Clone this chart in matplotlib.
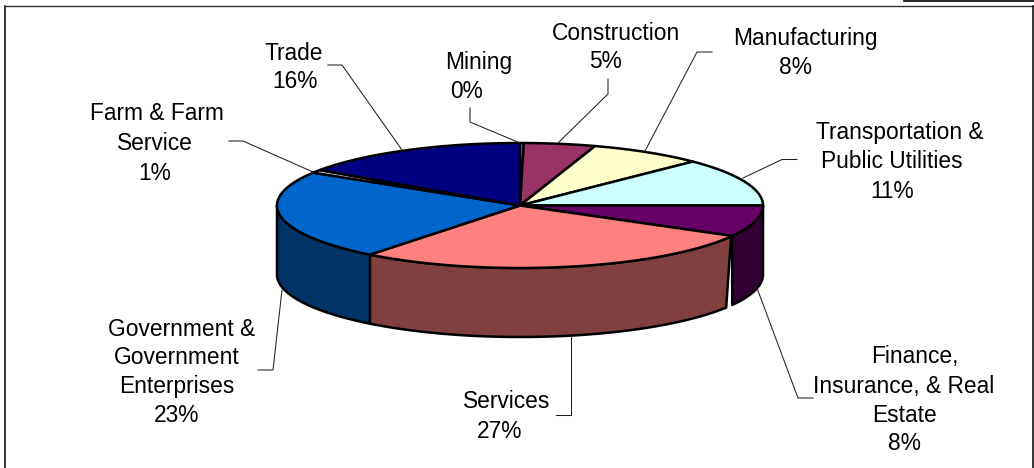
import matplotlib
matplotlib.use("Agg")
import matplotlib.pyplot as plt
import numpy as np
from matplotlib.patches import Polygon

plt.rcParams["font.family"] = ["Liberation Sans", "DejaVu Sans"]

# clockwise from twelve o'clock, shares as they appear on the drawn pie
SECTORS = [
    "Mining",
    "Construction",
    "Manufacturing",
    "Transportation & Public Utilities",
    "Finance, Insurance, & Real Estate",
    "Services",
    "Government & Government Enterprises",
    "Farm & Farm Service",
    "Trade",
]
SHARES = [0.25, 4.75, 7.6, 12.4, 8.1, 27.5, 23.2, 0.8, 15.4]
PERCENT_LABELS = ["0%", "5%", "8%", "11%", "8%", "27%", "23%", "1%", "16%"]

TOP_COLORS = [
    "#9999FF", "#993366", "#FFFFCC", "#CCFFFF", "#660066",
    "#FF8080", "#0066CC", "#CCCCFF", "#000080",
]
SIDE_COLORS = [
    "#4D4D80", "#4D1A33", "#808066", "#668080", "#330033",
    "#804040", "#003366", "#666680", "#000040",
]

# label lines are placed one by one, the wrapping in the original is uneven
LABEL_LINES = [
    [("Mining", 478.5, 63), ("0%", 466.5, 91.5)],
    [("Construction", 616, 34), ("5%", 605, 62)],
    [("Manufacturing", 805, 39), ("8%", 795, 68)],
    [("Transportation &", 900, 133), ("Public Utilities", 892, 162), ("11%", 892, 191.5)],
    [("Finance,", 915, 357), ("Insurance, & Real", 904, 386), ("Estate", 904, 415), ("8%", 904, 443.5)],
    [("Services", 507, 402), ("27%", 500, 431)],
    [("Government &", 182, 330), ("Government", 177, 357.5), ("Enterprises", 177, 386), ("23%", 177, 415)],
    [("Farm & Farm", 157, 114), ("Service", 155, 143), ("1%", 155, 173)],
    [("Trade", 294, 53), ("16%", 295, 82)],
]

LEADERS = [
    [(470, 108), (470, 122), (520, 143)],
    [(608, 79), (608, 94), (558, 143)],
    [(712, 52), (697, 52), (645, 151)],
    [(797, 159.5), (782, 159.5), (743, 178)],
    [(813, 398), (798, 398), (757, 288)],
    [(556, 415), (571, 415), (571, 335)],
    [(258, 370), (273, 370), (282, 290)],
    [(229, 141), (243, 141), (313, 172)],
    [(328, 65), (342, 65), (402, 150)],
]

CX, CY = 520, 205.5
RX, RY = 243, 62.5
DEPTH = 69


def rim(theta_deg, drop=0):
    t = np.radians(theta_deg)
    return np.column_stack([CX + RX * np.sin(t), CY - RY * np.cos(t) + drop])


def arc(start, end, drop=0):
    return rim(np.linspace(start, end, 80), drop)


fig = plt.figure(figsize=(10.34, 4.68), dpi=100)
ax = fig.add_axes([0, 0, 1, 1])
ax.set_xlim(0, 1034)
ax.set_ylim(468, 0)
ax.axis("off")

edges = np.concatenate([[0], np.cumsum(SHARES)]) / sum(SHARES) * 360

# side wall, only the front half of the rim shows
for i in range(len(SHARES)):
    start, end = max(edges[i], 90), min(edges[i + 1], 270)
    if end <= start:
        continue
    top_end, bottom_end = start, start
    if SECTORS[i] == "Services":
        # the wall stops short of the next one and leaves a white slit
        top_end, bottom_end = start + 0.5, start + 2.8
    wall = np.vstack([arc(top_end, end), arc(end, bottom_end, DEPTH)])
    ax.add_patch(Polygon(wall, closed=True, facecolor=SIDE_COLORS[i],
                         edgecolor="black", lw=1.8, joinstyle="round"))

# top face
for i in range(len(SHARES)):
    face = np.vstack([[[CX, CY]], arc(edges[i], edges[i + 1])])
    ax.add_patch(Polygon(face, closed=True, facecolor=TOP_COLORS[i],
                         edgecolor="black", lw=1.8, joinstyle="round"))

for leader in LEADERS:
    xs, ys = zip(*leader)
    ax.plot(xs, ys, color="#222222", lw=0.75, solid_joinstyle="miter")

for lines in LABEL_LINES:
    for text, x, y in lines:
        ax.text(x, y, text, ha="center", va="center", fontsize=16.4, color="black")

# chart frame and the sliver of the next one at the top right
ax.plot([4.5, 4.5], [468, 5.5], color="black", lw=1.1)
ax.plot([4.5, 1032.7], [5.5, 5.5], color="#333333", lw=1.0)
ax.plot([1032.7, 1032.7], [5.5, 468], color="black", lw=1.1)
ax.plot([904, 1034], [0.8, 0.8], color="black", lw=1.2)

fig.savefig("out.png", dpi=100)
